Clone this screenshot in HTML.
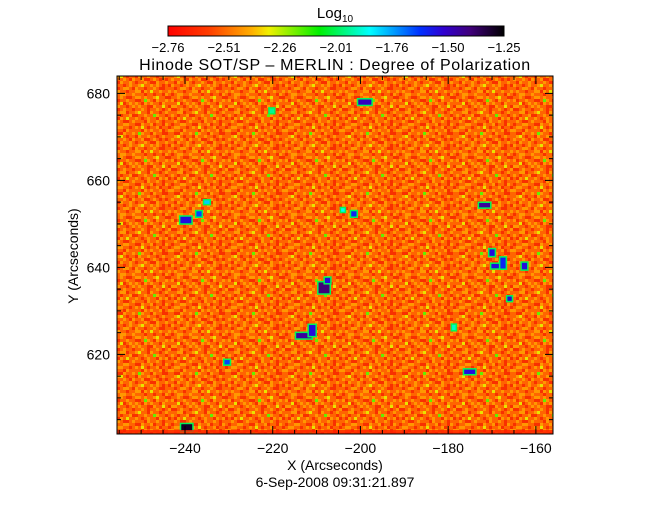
<!DOCTYPE html>
<html><head><meta charset="utf-8"><style>
body{margin:0;background:#fff}
svg text{font-family:"Liberation Sans",sans-serif;fill:#000}
</style></head><body>
<svg width="670" height="512" viewBox="0 0 670 512" xmlns="http://www.w3.org/2000/svg">
<defs>
<linearGradient id="cmap" x1="0" x2="1" y1="0" y2="0">
<stop offset="0" stop-color="#ff0000"/><stop offset="0.12" stop-color="#ff3c00"/>
<stop offset="0.25" stop-color="#ffb000"/><stop offset="0.3" stop-color="#f0f000"/>
<stop offset="0.45" stop-color="#00f000"/><stop offset="0.6" stop-color="#00ffff"/>
<stop offset="0.75" stop-color="#0030ff"/><stop offset="0.82" stop-color="#3000d0"/>
<stop offset="0.9" stop-color="#40007a"/><stop offset="1" stop-color="#000000"/>
</linearGradient>
<clipPath id="pc"><rect x="117" y="76" width="436" height="358"/></clipPath>
<pattern id="tex" patternUnits="userSpaceOnUse" width="57" height="60"></pattern>
</defs>
<text x="335" y="18" font-size="15" text-anchor="middle">Log<tspan font-size="10" dy="4">10</tspan></text>
<rect x="168" y="26" width="336" height="10" fill="url(#cmap)" stroke="#000" stroke-width="1"/>
<g id="cbl" font-size="13" text-anchor="middle"></g>
<text x="335" y="70" font-size="16" text-anchor="middle" letter-spacing="0.6">Hinode SOT/SP  –  MERLIN : Degree of Polarization</text>
<g clip-path="url(#pc)">
<rect x="117" y="76" width="436" height="358" fill="url(#tex)"/>
<g id="feat"></g>
<rect x="117" y="430" width="436" height="4" fill="#ff2000" opacity="0.8"/>
</g>
<rect x="117" y="76" width="436" height="358" fill="none" stroke="#000" stroke-width="1"/>
<g id="axes" stroke="#000" stroke-width="1"></g>
<g id="xl" font-size="14" text-anchor="middle"></g>
<g id="yl" font-size="14" text-anchor="end"></g>
<text x="335" y="470" font-size="14" text-anchor="middle">X (Arcseconds)</text>
<text x="335" y="487" font-size="14" text-anchor="middle">6-Sep-2008 09:31:21.897</text>
<text x="0" y="0" font-size="14" text-anchor="middle" transform="translate(78,256) rotate(-90)">Y (Arcseconds)</text>
</svg>
<script>
const cbLabels=["-2.76","-2.51","-2.26","-2.01","-1.76","-1.50","-1.25"];
const xTicks=[-240,-220,-200,-180,-160];
const yTicks=[620,640,660,680];
const featX=[-199,-239.8,-236.8,-235,-230.4,-220.2,-171.7,-201.5,-204,-170,-208.3,-207.5,-212.9,-211,-239.6,-168.9,-167.5,-162.6,-166,-175.1,-178.7];
const featY=[678,650.9,652.3,655,618.2,676,654.3,652.3,653.2,643.4,635.3,637,624.3,625.5,603.2,640.3,641,640.3,632.8,616,626.2];
const featW=[3,2.5,1.2,1.2,1.2,1,2.5,1.2,0.8,1.2,2.5,1.2,3.5,1.5,2.5,2.5,1.2,1.2,1,2.5,0.8];
const featH=[1.2,1.5,1.2,0.8,1,1,1,1.2,0.8,1.5,2.5,1.2,1.2,2.5,1.5,1,2.5,1.5,1,1,1.2];
const featV=[-1.5,-1.55,-1.65,-1.8,-1.65,-1.95,-1.45,-1.6,-1.85,-1.55,-1.4,-1.55,-1.45,-1.55,-1.3,-1.55,-1.6,-1.55,-1.55,-1.55,-1.9];
const texRows=[
"OAORROAOOORAOOAOROO","ROOAAOORRAOOAROORAO","OAAOOROAOYOROOAROOR","AOORAOOOORAOAOOAROA",
"ORRAOOAOGAOORAOORRO","OAYOROORAOOAOOROAOO","AOOAORAOOARROAORORO","ORAOOAOROOAORRAOOAO",
"AOOROAOOAYOOAOAOROR","OROAAORAOOROOAORROO","OAOOROOAARAOYOOAOOA","ROAAOOAOOOROOROORAO",
"OOAORROAAOAOOAYOORR","AROOAOORROGAORAOOAO","OOYROAOAORAOAOORAOO","AAOOROAOAOORRAOOYOR",
"RROAOOROOAOROOAOROA","OOAAROOAYOORAOOROAO","AOROOARROOAOOGAOORO","ORAOYOOAOROAOORAOAR"];
const NS="http://www.w3.org/2000/svg";
const X0=117,X1=553,Y0=76,Y1=434,xmin=-255.5,xmax=-156.1,ymin=601.7,ymax=684;
const sx=v=>X0+(v-xmin)/(xmax-xmin)*(X1-X0);
const sy=v=>Y1-(v-ymin)/(ymax-ymin)*(Y1-Y0);
const stops=[[0,[255,0,0]],[0.12,[255,60,0]],[0.25,[255,176,0]],[0.3,[240,240,0]],[0.45,[0,240,0]],[0.6,[0,255,255]],[0.75,[0,48,255]],[0.82,[48,0,208]],[0.9,[64,0,122]],[1,[0,0,0]]];
function cmap(v){let t=(v+2.76)/(1.51);t=Math.max(0,Math.min(1,t));for(let i=1;i<stops.length;i++){if(t<=stops[i][0]){const a=stops[i-1],b=stops[i],f=(t-a[0])/(b[0]-a[0]);return "rgb("+a[1].map((c,k)=>Math.round(c+(b[1][k]-c)*f)).join(",")+")";}}return "#000";}
function mk(tag,attrs,parent){const e=document.createElementNS(NS,tag);for(const k in attrs)e.setAttribute(k,attrs[k]);parent.appendChild(e);return e;}
const cbl=document.getElementById('cbl');
cbLabels.forEach((l,i)=>{const t=mk('text',{x:168+i*(336/6),y:52},cbl);t.textContent=l.replace('-','\u2212');

});
const tex=document.getElementById('tex');
const tcol={R:"#f83000",O:"#ff6400",A:"#ff9800",Y:"#e8e400",G:"#60f000"};
texRows.forEach((row,r)=>{[...row].forEach((c,k)=>{const e=mk('rect',{x:k*3,y:r*3,width:3,height:3,fill:tcol[c]},tex);

});});
const fg=document.getElementById('feat');
featX.forEach((fx,i)=>{const w=featW[i]*4.38,h=featH[i]*4.35;const cx=sx(fx),cy=sy(featY[i]);
const halo=mk('rect',{x:cx-w/2-1.5,y:cy-h/2-1.5,width:w+3,height:h+3,fill:cmap(-2.0)},fg);


const c=mk('rect',{x:cx-w/2,y:cy-h/2,width:w,height:h,fill:cmap(featV[i])},fg);

});
const ax=document.getElementById('axes');
function tick(x1,y1,x2,y2){const l=mk('line',{x1,y1,x2,y2},ax);

}
for(let v=-255;v<=-156;v+=5){const x=sx(v),L=(v%20===0)?8:4;tick(x,Y1,x,Y1-L);tick(x,Y0,x,Y0+L);}
for(let v=605;v<=684;v+=5){const y=sy(v),L=(v%20===0)?8:4;tick(X0,y,X0+L,y);tick(X1,y,X1-L,y);}
const xl=document.getElementById('xl');
xTicks.forEach(v=>{const t=mk('text',{x:sx(v),y:453},xl);t.textContent=String(v).replace('-','\u2212');

});
const yl=document.getElementById('yl');
yTicks.forEach(v=>{const t=mk('text',{x:110,y:sy(v)+5},yl);t.textContent=v;

});
</script>
</body></html>
